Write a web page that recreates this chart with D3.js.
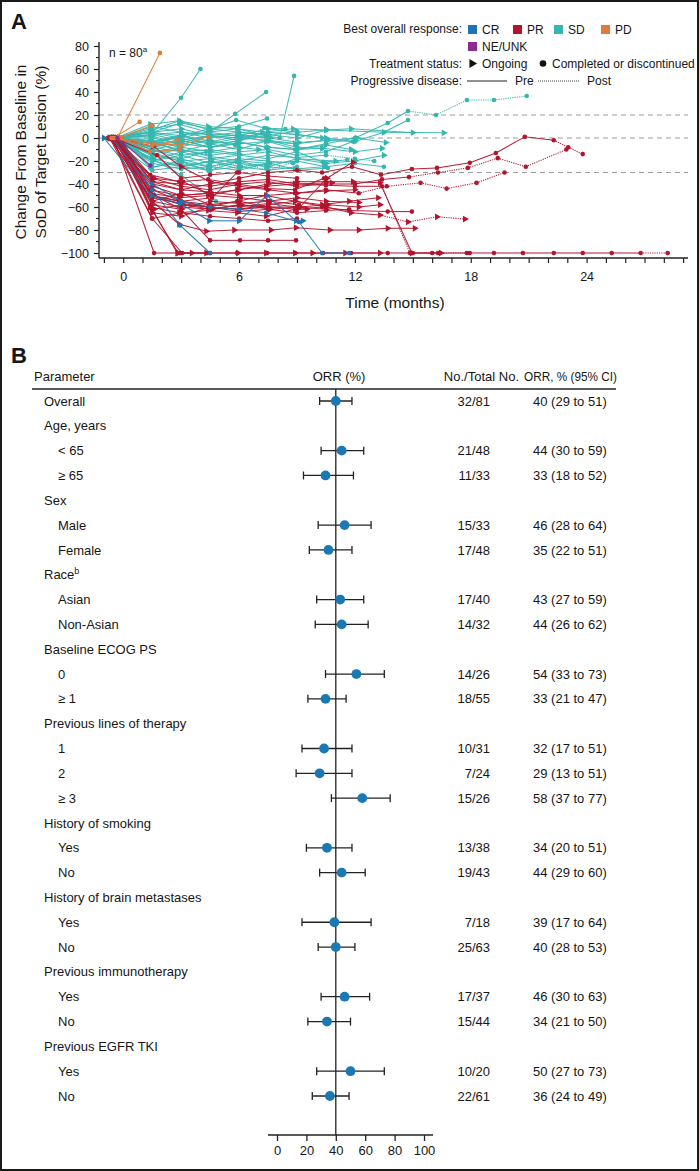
<!DOCTYPE html>
<html><head><meta charset="utf-8">
<script src="https://cdn.jsdelivr.net/npm/d3@7"></script>
<style>
body{margin:0;background:#fff}
svg{display:block}
text{font-family:"Liberation Sans",Arial,Helvetica,sans-serif;fill:#161616}
</style>
</head><body>
<svg id="chart" width="699" height="1171"></svg>
<script>
// ---------------- DATA: Panel A (spider plot) ----------------
// each patient: [end status ("O" ongoing / "C" completed or discontinued), index of PD scan (-1 none), [[month, % change], ...]]
const responseLabels = ["CR", "PR", "SD", "PD", "NE/UNK"];
const yTicksA = [-100, -80, -60, -40, -20, 0, 20, 40, 60, 80];
const xTickLabelsA = [0, 6, 12, 18, 24];
const referenceLines = [20, 0, -30];

const crPatients = [
  ["O", -1, [[-1.0,0],[1.45,-50],[2.95,-57],[4.45,-72],[6.0,-72],[7.45,-50],[8.95,-72],[9.3,-72]]],
  ["C", -1, [[-0.6,0],[1.5,-45],[2.95,-76],[4.5,-100]]],
  ["C", -1, [[-0.3,0],[1.5,-40],[3.0,-55],[4.5,-60],[6.0,-62],[7.4,-65],[9.1,-73],[10.3,-100],[11.7,-100]]]
];
const prPatients = [
  ["C", 18, [[-0.5,0],[1.6,-100],[2.95,-100],[4.35,-100],[5.9,-100],[7.45,-100],[8.9,-100],[10.35,-100],[11.8,-100],[13.7,-100],[15.0,-100],[16.3,-100],[17.8,-100],[19.2,-100],[20.7,-100],[22.3,-100],[23.8,-100],[25.3,-100],[26.8,-100],[28.2,-100]]],
  ["O", -1, [[-0.2,0],[1.4,-60],[2.85,-100],[3.55,-100]]],
  ["C", -1, [[-0.7,0],[1.5,-70],[3.05,-100],[4.5,-100]]],
  ["O", -1, [[-0.5,0],[1.5,-62],[2.8,-100],[4.3,-100],[5.95,-100],[7.4,-100],[8.9,-100],[9.8,-100],[11.5,-100],[13.3,-100]]],
  ["O", -1, [[-0.4,0],[1.5,-55],[2.9,-75],[4.3,-81],[5.75,-80],[7.65,-80],[8.95,-78],[10.7,-80],[12.2,-80],[13.7,-78.5],[15.1,-78.5]]],
  ["C", -1, [[-0.3,0],[1.6,-50],[3.0,-62],[4.5,-89],[6.05,-89],[7.5,-89],[8.95,-89]]],
  ["C", 15, [[-0.6,0],[1.5,-40],[3.0,-45],[4.5,-40],[6.0,-35],[7.5,-30],[9.0,-28],[10.3,-30],[11.85,-25],[13.35,-32],[14.95,-27],[16.25,-26],[17.95,-21.5],[19.3,-13],[20.8,1],[22.3,-2],[23.05,-8],[23.8,-14]]],
  ["C", 10, [[-0.4,0],[1.5,-35],[3.0,-42],[4.5,-45],[6.0,-40],[7.5,-38],[9.0,-42],[10.5,-40],[12.0,-40],[13.4,-36],[14.8,-34],[16.3,-30],[17.85,-26],[19.4,-17.5],[20.85,-25],[22.95,-10]]],
  ["C", 8, [[-0.2,0],[1.4,-50],[2.9,-55],[4.4,-60],[5.9,-55],[7.4,-50],[8.9,-48],[10.5,-45],[12.2,-48],[13.65,-42],[15.4,-39],[16.75,-44],[18.3,-39],[19.75,-30]]],
  ["O", -1, [[-0.5,0],[1.5,-42],[3.0,-50],[4.5,-48],[6.0,-45],[7.5,-40],[9.0,-38],[10.5,-38],[11.9,-38],[13.3,-39],[14.95,-100],[16.45,-100]]],
  ["C", 9, [[-0.3,0],[1.5,-38],[3.0,-40],[4.5,-42],[6.0,-38],[7.5,-36],[9.0,-40],[10.5,-41],[12.0,-42],[13.4,-42],[14.85,-100],[16.0,-100],[17.95,-100]]],
  ["C", -1, [[-0.7,0],[1.5,-55],[3.0,-60],[4.5,-62],[6.0,-58],[7.5,-60],[9.0,-62],[10.3,-60],[11.7,-63],[13.7,-64],[14.95,-64]]],
  ["O", 9, [[-0.4,0],[1.5,-50],[3.0,-58],[4.5,-60],[6.0,-62],[7.5,-58],[8.9,-55],[10.5,-60],[11.8,-65],[13.3,-67],[14.75,-73],[16.25,-68.5],[17.7,-70.5]]],
  ["O", -1, [[-0.3,0],[1.5,-45],[3.0,-55],[4.5,-58],[6.0,-55],[7.5,-60],[9.15,-60],[10.55,-35],[11.9,-21]]],
  ["O", -1, [[-0.6,0],[1.4,-48],[2.9,-52],[4.4,-50],[5.9,-45],[7.4,-42],[8.9,-40],[10.8,-39]]],
  ["O", -1, [[-0.2,0],[1.5,-58],[3.0,-62],[4.5,-55],[6.0,-57],[7.5,-55],[9.0,-52],[10.5,-55],[12.2,-56]]],
  ["C", -1, [[-0.8,0],[1.6,-35],[3.1,-38],[4.6,-50],[6.1,-52],[7.6,-55],[9.1,-58]]],
  ["O", -1, [[-0.3,0],[1.4,-60],[2.9,-65],[4.4,-63],[5.9,-65],[7.4,-68],[8.9,-62],[9.5,-62]]],
  ["C", -1, [[-0.5,0],[1.75,-15],[3.0,-35],[4.5,-32],[6.0,-30],[7.5,-33],[9.0,-35]]],
  ["C", -1, [[-0.1,0],[1.5,-52],[3.0,-57],[4.5,-60],[6.0,-64],[7.5,-62],[9.0,-65],[10.5,-63],[11.7,-62]]],
  ["O", -1, [[-0.4,0],[1.5,-65],[3.0,-68],[4.5,-60],[6.0,-62],[7.5,-60]]],
  ["C", -1, [[-0.3,0],[1.5,-50],[3.0,-55],[4.6,-52],[5.9,-30]]],
  ["O", -1, [[-0.5,0],[1.55,-7],[3.0,-25],[4.5,-38],[6.0,-42],[7.5,-45],[9.0,-48],[10.5,-46],[12.0,-45]]],
  ["C", -1, [[-0.2,0],[1.4,-45],[2.9,-50],[4.4,-48]]],
  ["O", -1, [[-0.7,0],[1.5,-55],[3.0,-48],[4.5,-58],[6.0,-60],[7.5,-57],[9.0,-60],[10.5,-62]]],
  ["O", -1, [[-0.4,0],[1.6,-62],[3.1,-58],[4.6,-62],[6.1,-58],[7.6,-62],[9.1,-60],[10.6,-58],[12.2,-60],[13.3,-58]]],
  ["O", -1, [[-0.5,0],[1.5,-38],[3.0,-45],[4.5,-47],[6.0,-50],[7.4,-50],[8.9,-55],[10.3,-58],[11.7,-55],[13.2,-52]]],
  ["C", -1, [[-0.3,0],[1.4,-32],[2.9,-38],[4.4,-36],[5.9,-40],[7.4,-44],[8.9,-45],[10.4,-35]]],
  ["C", -1, [[-0.6,0],[1.5,-70],[3.0,-65],[4.5,-68],[6.0,-70],[7.5,-72],[9.0,-70]]]
];
const sdPatients = [
  ["C", -1, [[-0.3,0],[1.4,2],[3.0,35],[4.0,60]]],
  ["C", -1, [[-0.5,0],[1.5,-5],[3.0,3],[4.5,5],[5.8,21],[7.4,40]]],
  ["C", -1, [[-0.2,0],[1.5,-10],[3.0,-5],[4.5,-8],[6.0,-2],[7.4,2],[8.1,0],[8.85,54]]],
  ["C", -1, [[-0.6,0],[1.5,5],[3.0,13],[4.5,8],[6.0,10],[7.45,17]]],
  ["C", 10, [[-0.4,0],[1.5,-5],[3.0,-2],[4.5,-8],[6.0,-5],[7.5,-3],[9.0,-10],[10.5,-5],[12.0,0],[13.7,13],[14.75,23.5],[16.2,20],[17.8,33],[19.2,33],[20.9,36.5]]],
  ["C", -1, [[-0.3,0],[1.5,-8],[3.0,-12],[4.5,-5],[6.0,-10],[7.5,-2],[9.0,-5],[10.5,-2],[12.0,-3],[13.5,5],[14.75,15.6]]],
  ["O", -1, [[-0.5,0],[1.5,3],[3.0,5],[4.5,3],[6.0,2],[7.5,8],[9.0,5],[10.5,7],[11.8,8],[15.0,4.6]]],
  ["O", -1, [[-0.7,0],[1.5,5],[3.0,8],[4.5,2],[6.0,5],[7.5,3],[9.0,0],[10.55,7],[13.5,5],[16.6,4.5]]],
  ["O", -1, [[-0.2,0],[1.5,-3],[3.0,2],[4.5,-5],[6.0,0],[7.5,-2],[9.0,-8],[10.3,-9],[12.0,-12],[13.4,-9]]],
  ["O", -1, [[-0.4,0],[1.4,12],[2.9,15],[4.4,10],[5.9,8],[7.2,5],[8.8,8],[10.5,7]]],
  ["O", -1, [[-0.6,0],[1.5,-15],[3.0,-20],[4.5,-18],[6.0,-22],[7.5,-25],[9.0,-18],[11.0,-20]]],
  ["C", -1, [[-0.1,0],[1.5,-20],[3.0,-25],[4.5,-28],[6.0,-20],[7.5,-22]]],
  ["C", -1, [[-0.5,0],[1.5,-18],[3.0,-32],[4.8,-55]]],
  ["C", -1, [[-0.3,0],[1.5,7],[2.9,15],[4.45,7],[5.85,15.6],[7.3,8.7],[8.4,7.8]]],
  ["C", -1, [[-0.5,0],[1.4,-3],[2.9,0],[4.4,-5],[5.9,-3],[7.4,-8],[8.9,-10],[10.3,-9]]],
  ["C", -1, [[-0.2,0],[1.5,-10],[3.0,-15],[4.5,-12],[6.0,-15],[7.5,-18],[9.0,-12],[10.35,-21],[11.6,-19]]],
  ["C", -1, [[-0.6,0],[1.5,-20],[3.0,-15],[4.5,-22],[6.0,-18],[7.5,-20],[8.8,-22]]],
  ["C", -1, [[-0.4,0],[1.5,-5],[3.0,-10],[4.5,-15],[6.0,-12],[7.5,-10],[9.0,-15],[10.5,-12],[11.9,-3]]],
  ["O", -1, [[-0.7,0],[1.4,5],[2.9,0],[4.4,5],[5.9,2],[7.4,-3],[8.9,-5]]],
  ["C", -1, [[-0.1,0],[1.5,-25],[3.0,-22],[4.5,-28],[6.0,-25],[7.5,-28],[9.0,-25]]],
  ["O", -1, [[-0.5,0],[1.5,-12],[3.0,-8],[4.5,-12],[6.0,-8],[7.0,-10]]],
  ["C", -1, [[-0.3,0],[1.5,10],[3.0,5],[4.5,0],[6.0,3],[7.5,0]]],
  ["C", -1, [[-0.8,0],[1.6,-18],[3.1,-25],[4.6,-20],[6.1,-25],[7.6,-22],[9.1,-28],[10.6,-26]]],
  ["C", -1, [[-0.2,0],[1.4,-2],[2.9,-8],[4.4,-2],[5.8,-6]]],
  ["C", -1, [[-0.4,0],[1.5,-15],[3.0,-18],[4.3,-12]]],
  ["O", -1, [[-0.6,0],[1.5,3],[2.9,-2],[4.5,2],[6.0,-2],[7.5,5],[9.0,3],[10.5,0],[12.0,-3]]],
  ["C", -1, [[-0.3,0],[1.5,-22],[3.0,-27],[4.5,-25],[6.0,-28],[7.5,-22],[9.0,-20],[10.5,-25],[12.0,-22],[13.5,-25]]],
  ["O", -1, [[-0.5,0],[1.5,-8],[3.0,-4],[4.5,2],[6.0,0],[7.5,5],[9.0,3],[10.3,0]]],
  ["O", -1, [[-0.2,0],[1.4,-12],[2.9,-20],[4.4,-25],[5.9,-20],[7.4,-25],[8.9,-27],[10.4,-25]]],
  ["C", -1, [[-0.7,0],[1.5,-28],[3.0,-25],[4.5,-20],[6.0,-27]]],
  ["O", -1, [[-0.4,0],[1.6,-5],[3.1,2],[4.6,-3],[6.1,2],[7.6,0],[9.1,-4],[10.6,-2],[12.1,0],[13.6,-4]]],
  ["C", -1, [[-0.1,0],[1.5,0],[3.0,-5],[4.5,-2]]],
  ["O", -1, [[-0.5,0],[1.5,-3],[3.0,-12],[4.5,-18],[6.0,-15],[7.5,-12],[9.0,-18],[10.5,-22],[12.0,-20],[13.5,-15]]],
  ["C", -1, [[-0.3,0],[1.4,8],[2.9,12],[4.4,5],[5.9,8],[7.4,2]]],
  ["C", 3, [[-0.6,0],[1.5,-10],[3.0,-18],[4.5,-25],[6.0,-22],[7.5,-28],[9.0,-20]]],
  ["O", -1, [[-0.2,0],[1.5,-20],[3.0,-12],[4.5,-10],[6.0,-14]]],
  ["C", -1, [[-0.4,0],[1.5,2],[2.8,-5]]],
  ["O", -1, [[-0.5,0],[1.5,-8],[3.0,-2],[4.5,-8],[6.0,-4],[7.5,-8],[9.0,-10],[10.5,-6],[11.8,-10]]],
  ["C", -1, [[-0.3,0],[1.5,5],[3.0,2],[4.5,8],[6.0,5],[7.5,2],[9.0,6]]],
  ["C", -1, [[-0.1,0],[1.4,-26],[2.9,-20],[4.4,-28]]],
  ["C", 7, [[-0.7,0],[1.5,-14],[3.0,-10],[4.5,-16],[6.0,-20],[7.5,-15],[9.0,-17],[10.5,-15],[12.0,-18],[13.0,-20]]]
];
const pdPatients = [
  ["C", -1, [[-0.3,0],[1.9,74]]],
  ["C", -1, [[-0.5,0],[0.85,14]]],
  ["C", -1, [[-0.2,0],[1.5,11]]],
  ["C", -1, [[-0.6,0],[1.5,-7],[2.8,-2]]],
  ["C", -1, [[-0.4,0],[1.6,-5],[3.0,-6],[4.4,1]]],
  ["C", -1, [[-0.1,0],[1.4,-12],[2.9,-10]]]
];
const nePatients = [
  ["C", -1, [[-0.3,0],[1.4,-24]]]
];

// ---------------- DATA: Panel B (forest plot) ----------------
const forestLabels = ["Overall","Age, years","< 65","≥ 65","Sex","Male","Female","Race","Asian","Non-Asian",
  "Baseline ECOG PS","0","≥ 1","Previous lines of therapy","1","2","≥ 3","History of smoking","Yes","No",
  "History of brain metastases","Yes","No","Previous immunotherapy","Yes","No","Previous EGFR TKI","Yes","No"];
const forestSuperscripts = ["","","","","","","","b","","","","","","","","","","","","","","","","","","","","",""];
const forestLevel = [0,0,1,1,0,1,1,0,1,1,0,1,1,0,1,1,1,0,1,1,0,1,1,0,1,1,0,1,1];
const forestResponders = [32,null,21,11,null,15,17,null,17,14,null,14,18,null,10,7,15,null,13,19,null,7,25,null,17,15,null,10,22];
const forestTotals = [81,null,48,33,null,33,48,null,40,32,null,26,55,null,31,24,26,null,38,43,null,18,63,null,37,44,null,20,61];
const forestOrr = [40,null,44,33,null,46,35,null,43,44,null,54,33,null,32,29,58,null,34,44,null,39,40,null,46,34,null,50,36];
const forestLow = [29,null,30,18,null,28,22,null,27,26,null,33,21,null,17,13,37,null,20,29,null,17,28,null,30,21,null,27,24];
const forestHigh = [51,null,59,52,null,64,51,null,59,62,null,73,47,null,51,51,77,null,51,60,null,64,53,null,63,50,null,73,49];
const forestTicks = [0,20,40,60,80,100];
const forestReference = 40;

// ---------------- DRAWING ----------------
const svg = d3.select("#chart");
const W = 699, H = 1171;
svg.append("rect").attr("x",0).attr("y",0).attr("width",W).attr("height",H).attr("fill","#fff");
svg.append("rect").attr("x",1).attr("y",1).attr("width",W-2).attr("height",H-2)
  .attr("fill","none").attr("stroke","#1a1a1a").attr("stroke-width",2);

const colors = {"CR":"#1c74b0","PR":"#b3142e","SD":"#35b6af","PD":"#e07a3b","NE/UNK":"#8e2b8e"};
const axisColor = "#222";

// Panel labels
svg.append("text").attr("x",11).attr("y",29).attr("font-size",22).attr("font-weight","bold").text("A");
svg.append("text").attr("x",11).attr("y",363).attr("font-size",22).attr("font-weight","bold").text("B");

// Scales A
const x = d3.scaleLinear().domain([-1.15, 29.2]).range([101, 687]);
const y = d3.scaleLinear().domain([-100, 80]).range([253, 46]);
const axisY = 258, axisX = 99;

// reference dashed lines
svg.append("g").selectAll("line").data(referenceLines).join("line")
  .attr("x1", axisX).attr("x2", 688)
  .attr("y1", d => y(d)).attr("y2", d => y(d))
  .attr("stroke","#9b9b9b").attr("stroke-width",1.1).attr("stroke-dasharray","5,4");

// y axis
const gy = svg.append("g").attr("transform",`translate(${axisX},0)`)
  .call(d3.axisLeft(y).tickValues(yTicksA).tickSize(5).tickPadding(5));
gy.select(".domain").remove();
gy.selectAll(".tick line").attr("stroke",axisColor).attr("stroke-width",1.2);
gy.selectAll(".tick text").attr("font-size",12.5).attr("font-family",'"Liberation Sans",Arial,sans-serif').attr("fill","#161616");
gy.append("g").selectAll("line").data(d3.range(-90, 81, 20)).join("line")
  .attr("x1",-3).attr("x2",0).attr("y1",d=>y(d)).attr("y2",d=>y(d))
  .attr("stroke",axisColor).attr("stroke-width",1.1);
svg.append("line").attr("x1",axisX).attr("x2",axisX).attr("y1",42).attr("y2",axisY)
  .attr("stroke",axisColor).attr("stroke-width",1.4);

// x axis
const gx = svg.append("g").attr("transform",`translate(0,${axisY})`)
  .call(d3.axisBottom(x).tickValues(d3.range(-1, 30)).tickSize(5).tickPadding(9)
    .tickFormat(d => xTickLabelsA.includes(d) ? d : ""));
gx.select(".domain").remove();
gx.selectAll(".tick line").attr("stroke",axisColor).attr("stroke-width",1.2);
gx.selectAll(".tick text").attr("font-size",12.5).attr("font-family",'"Liberation Sans",Arial,sans-serif').attr("fill","#161616");
svg.append("line").attr("x1",axisX).attr("x2",688).attr("y1",axisY).attr("y2",axisY)
  .attr("stroke",axisColor).attr("stroke-width",1.4);

// axis titles
const yt = svg.append("text").attr("transform","translate(26,152) rotate(-90)")
  .attr("text-anchor","middle").attr("font-size",15.5);
yt.append("tspan").attr("x",0).attr("y",0).text("Change From Baseline in");
yt.append("tspan").attr("x",0).attr("y",20).text("SoD of Target Lesion (%)");
svg.append("text").attr("x",395).attr("y",308).attr("text-anchor","middle").attr("font-size",15.5).text("Time (months)");

// n label
const nt = svg.append("text").attr("x",109).attr("y",57).attr("font-size",12);
nt.append("tspan").text("n = 80");
nt.append("tspan").attr("font-size",8).attr("dy",-5).text("a");

// spider lines
const triangle = d3.symbol().type(d3.symbolTriangle).size(20);
const groups = [["SD", sdPatients], ["PR", prPatients], ["CR", crPatients], ["PD", pdPatients], ["NE/UNK", nePatients]];
const gLines = svg.append("g");
groups.forEach(([resp, patients]) => {
  const c = colors[resp];
  patients.forEach(([status, pd, scans]) => {
    const g = gLines.append("g");
    const segs = d3.range(scans.length - 1).map(i => ({a: scans[i], b: scans[i+1], post: pd >= 0 && i >= pd}));
    g.selectAll("line").data(segs).join("line")
      .attr("x1", d => x(d.a[0])).attr("y1", d => y(d.a[1]))
      .attr("x2", d => x(d.b[0])).attr("y2", d => y(d.b[1]))
      .attr("stroke", c).attr("stroke-width", d => d.post ? 1.1 : 1.05)
      .attr("stroke-dasharray", d => d.post ? "1.2,1.1" : null)
      .attr("stroke-opacity", 0.95);
    if (status === "C") {
      g.selectAll("circle").data(scans).join("circle")
        .attr("cx", d => x(d[0])).attr("cy", d => y(d[1])).attr("r", 2.3).attr("fill", c);
    } else {
      g.selectAll("path").data(scans).join("path")
        .attr("d", triangle)
        .attr("transform", d => `translate(${x(d[0])},${y(d[1])}) rotate(90)`)
        .attr("fill", c);
    }
  });
});

// legend
const lg = svg.append("g").attr("font-size",12);
lg.append("text").attr("x",462).attr("y",33).attr("text-anchor","end").text("Best overall response:");
const legendPos = [[468,25],[513,25],[554,25],[601,25],[468,42]];
responseLabels.forEach((r,i) => {
  lg.append("rect").attr("x",legendPos[i][0]).attr("y",legendPos[i][1]).attr("width",9).attr("height",9).attr("fill",colors[r]);
  lg.append("text").attr("x",legendPos[i][0]+14).attr("y",legendPos[i][1]+8.5).text(r);
});
lg.append("text").attr("x",462).attr("y",67.5).attr("text-anchor","end").text("Treatment status:");
lg.append("path").attr("d", d3.symbol().type(d3.symbolTriangle).size(34)).attr("transform","translate(472,63.5) rotate(90)").attr("fill","#111");
lg.append("text").attr("x",482).attr("y",67.5).text("Ongoing");
lg.append("circle").attr("cx",543).attr("cy",63.5).attr("r",3.3).attr("fill","#111");
lg.append("text").attr("x",552).attr("y",67.5).text("Completed or discontinued");
lg.append("text").attr("x",462).attr("y",85).attr("text-anchor","end").text("Progressive disease:");
lg.append("line").attr("x1",467).attr("x2",507).attr("y1",81).attr("y2",81).attr("stroke","#222").attr("stroke-width",1.1);
lg.append("text").attr("x",515).attr("y",85).text("Pre");
lg.append("line").attr("x1",538).attr("x2",580).attr("y1",81).attr("y2",81).attr("stroke","#444").attr("stroke-width",1).attr("stroke-dasharray","1,1");
lg.append("text").attr("x",587).attr("y",85).text("Post");

// ---------------- Panel B ----------------
const fx = d3.scaleLinear().domain([0,100]).range([277,424]);
const rowY = d3.scalePoint().domain(d3.range(forestLabels.length)).range([401,1096]);
const fAxisY = 1135;
const fb = svg.append("g").attr("font-size",13);

fb.append("text").attr("x",34).attr("y",381).text("Parameter");
fb.append("text").attr("x",339).attr("y",381).attr("text-anchor","middle").text("ORR (%)");
fb.append("text").attr("x",519).attr("y",381).attr("text-anchor","end").text("No./Total No.");
fb.append("text").attr("x",524).attr("y",381).attr("textLength",93).attr("lengthAdjust","spacingAndGlyphs").text("ORR, % (95% CI)");
fb.append("line").attr("x1",32).attr("x2",616).attr("y1",389).attr("y2",389).attr("stroke","#222").attr("stroke-width",1.4);

// reference line
fb.append("line").attr("x1",fx(forestReference)).attr("x2",fx(forestReference)).attr("y1",389).attr("y2",fAxisY)
  .attr("stroke","#222").attr("stroke-width",1.3);

forestLabels.forEach((lab, i) => {
  const yy = rowY(i);
  const t = fb.append("text").attr("x", forestLevel[i] ? 58 : 44).attr("y", yy + 4.6).text(lab);
  if (forestSuperscripts[i]) t.append("tspan").attr("font-size",9).attr("dy",-5).text(forestSuperscripts[i]);
  if (forestOrr[i] != null) {
    fb.append("line").attr("x1",fx(forestLow[i])).attr("x2",fx(forestHigh[i])).attr("y1",yy).attr("y2",yy).attr("stroke","#222").attr("stroke-width",1.3);
    [forestLow[i], forestHigh[i]].forEach(v => fb.append("line").attr("x1",fx(v)).attr("x2",fx(v)).attr("y1",yy-4).attr("y2",yy+4).attr("stroke","#222").attr("stroke-width",1.3));
    fb.append("circle").attr("cx",fx(forestOrr[i])).attr("cy",yy).attr("r",4.9).attr("fill","#1a78b2");
    fb.append("text").attr("x",490).attr("y",yy+4.6).attr("text-anchor","end").text(`${forestResponders[i]}/${forestTotals[i]}`);
    fb.append("text").attr("x",533).attr("y",yy+4.6).text(`${forestOrr[i]} (${forestLow[i]} to ${forestHigh[i]})`);
  }
});

// forest axis
const fa = svg.append("g").attr("transform",`translate(0,${fAxisY})`)
  .call(d3.axisBottom(fx).tickValues(forestTicks).tickSize(6).tickPadding(5));
fa.select(".domain").remove();
fa.selectAll(".tick line").attr("stroke","#222").attr("stroke-width",1.3);
fa.selectAll(".tick text").attr("font-size",13).attr("font-family",'"Liberation Sans",Arial,sans-serif').attr("fill","#161616");
svg.append("line").attr("x1",268).attr("x2",433).attr("y1",fAxisY).attr("y2",fAxisY).attr("stroke","#222").attr("stroke-width",1.4);
</script>
</body></html>
